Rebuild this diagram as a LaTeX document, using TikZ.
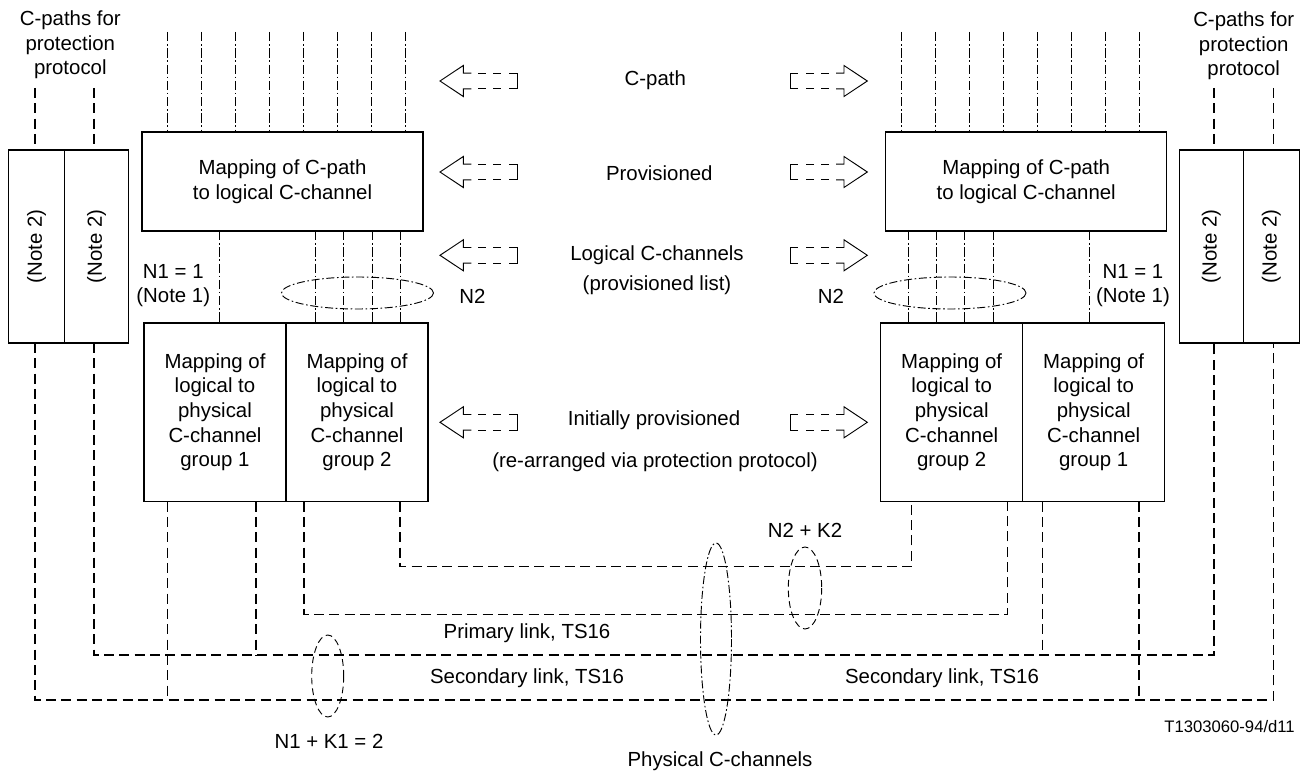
\documentclass[tikz,border=0pt]{standalone}
\usepackage{fontspec}
\setmainfont{Liberation Sans}
\usetikzlibrary{positioning}

\tikzset{
  box/.style={draw, line width=1pt, inner sep=0pt, outer sep=0pt, align=center, font=\fontsize{15.3}{18.5}\selectfont},
  lbl/.style={inner sep=0pt, align=center, font=\fontsize{15.3}{18.5}\selectfont},
  chanline/.style={line width=0.75pt, dash pattern=on 7pt off 2pt on 1.2pt off 2pt},
  linkline/.style={line width=0.85pt, dash pattern=on 7.5pt off 4pt},
  loopdash/.style={line width=0.7pt, dash pattern=on 5pt off 3pt},
  loopdot/.style={line width=0.7pt, dash pattern=on 6pt off 2pt on 1.2pt off 2pt},
  hollowarrow/.pic={
    \draw[line width=0.7pt] (31.3,-7.8) -- (23.3,-7.8) -- (23.3,-15.5) -- (0,0) -- (23.3,15.5) -- (23.3,7.8) -- (31.3,7.8);
    \draw[line width=0.7pt] (69.3,-7.8) -- (77.3,-7.8) -- (77.3,7.8) -- (69.3,7.8);
    \foreach \a in {38.3,53.3} {
      \draw[line width=0.7pt] (\a,-7.8) -- ++(8,0);
      \draw[line width=0.7pt] (\a,7.8) -- ++(8,0);
    }
  }
}

\begin{document}
\begin{tikzpicture}[x=0.75pt,y=0.75pt,yscale=-1,xscale=1]
\useasboundingbox (0,0) rectangle (1310,773);

% protection note boxes
\node[box, minimum width=42pt, minimum height=144.75pt] (lnA) at (36.5,246.5) {};
\node[box, minimum width=48pt, minimum height=144.75pt, right=0pt of lnA] (lnB) {};
\node[box, minimum width=48pt, minimum height=144.75pt] (rnA) at (1211.3,246.5) {};
\node[box, minimum width=42pt, minimum height=144.75pt, right=0pt of rnA] (rnB) {};
\foreach \n in {lnA,lnB,rnA,rnB}
  \node[lbl, rotate=90] (\n txt) at (\n) {(Note 2)};

% C-path mapping boxes
\node[box, minimum width=210.75pt, minimum height=74.25pt] (mapL) at (282.5,181.5) {Mapping of C-path\\to logical C-channel};
\node[box, minimum width=210.75pt, minimum height=74.25pt] (mapR) at (1026.2,181.5) {Mapping of C-path\\to logical C-channel};

% logical to physical boxes
\node[box, minimum width=106.5pt, minimum height=134pt] (grpL1) at (215,412.3) {Mapping of\\logical to\\physical\\C-channel\\group 1};
\node[box, minimum width=106.5pt, minimum height=134pt, right=0pt of grpL1] (grpL2) {Mapping of\\logical to\\physical\\C-channel\\group 2};
\node[box, minimum width=106.5pt, minimum height=134pt] (grpR2) at (951.7,412.3) {Mapping of\\logical to\\physical\\C-channel\\group 2};
\node[box, minimum width=106.5pt, minimum height=134pt, right=0pt of grpR2] (grpR1) {Mapping of\\logical to\\physical\\C-channel\\group 1};

% C-paths
\foreach \x [count=\i] in {167,201,...,405} {
  \coordinate (lcp\i) at (\x,32);
  \draw[chanline] (lcp\i) -- (lcp\i |- mapL.north);
}
\foreach \x [count=\i] in {901.7,935.7,...,1139.7} {
  \coordinate (rcp\i) at (\x,32);
  \draw[chanline] (rcp\i) -- (rcp\i |- mapR.north);
}

% logical C-channels
\draw[chanline] (219,0 |- mapL.south) -- (219,0 |- grpL1.north);
\foreach \x in {315,343,372,400}
  \draw[chanline] (\x,0 |- mapL.south) -- (\x,0 |- grpL2.north);
\foreach \x in {908.3,936,964.3,993}
  \draw[chanline] (\x,0 |- mapR.south) -- (\x,0 |- grpR2.north);
\draw[chanline] (1089.3,0 |- mapR.south) -- (1089.3,0 |- grpR1.north);
\draw[loopdot] (357.5,293) ellipse [x radius=76, y radius=16];
\draw[loopdot] (950,293) ellipse [x radius=76, y radius=16];

% protection protocol paths
\coordinate (ptA) at (35,88);
\coordinate (ptB) at (94,88);
\coordinate (ptC) at (1214,88);
\coordinate (ptD) at (1273.3,88);
\draw[linkline] (ptA) -- (ptA |- lnA.north);
\draw[linkline] (ptB) -- (ptB |- lnB.north);
\draw[linkline] (ptC) -- (ptC |- rnA.north);
\draw[linkline] (ptD) -- (ptD |- rnB.north);

% physical C-channels
\draw[linkline] (400,0 |- grpL2.south) -- (400,566.7) -| (911.7,0 |- grpR2.south);
\draw[linkline] (304,0 |- grpL2.south) -- (304,614.3) -| (1007.7,0 |- grpR2.south);
\draw[linkline] (94,0 |- lnB.south) -- (94,655) -| (1214,0 |- rnA.south);
\draw[linkline] (35,0 |- lnA.south) -- (35,700) -| (1273.3,0 |- rnB.south);
\draw[linkline] (256,0 |- grpL1.south) -- (256,655);
\draw[linkline] (167.7,0 |- grpL1.south) -- (167.7,700);
\draw[linkline] (1042.7,0 |- grpR1.south) -- (1042.7,655);
\draw[linkline] (1139,0 |- grpR1.south) -- (1139,700);
\draw[loopdash] (327.7,676) ellipse [x radius=16, y radius=41];
\draw[loopdash] (805,588) ellipse [x radius=16.7, y radius=41];
\draw[loopdot] (716,639) ellipse [x radius=15.5, y radius=96];

% hollow arrows
\foreach \y in {81,172,255.3,422.3} {
  \pic at (440,\y) {hollowarrow};
  \pic[xscale=-1] at (867.3,\y) {hollowarrow};
}

% Text Nodes
\node[lbl] (protL) at (70.3,45) {C-paths for\\protection\\protocol};
\node[lbl] (protR) at (1243.7,46) {C-paths for\\protection\\protocol};
\node[lbl] (cpath) at (655.3,80) {C-path};
\node[lbl] (prov) at (659.3,173.3) {Provisioned};
\node[lbl] (logch) at (657,270) {Logical C-channels\\[4pt](provisioned list)};
\node[lbl] (n2L) at (472.5,296) {N2};
\node[lbl] (n2R) at (831,296) {N2};
\node[lbl] (n1L) at (173.3,285.5) {N1 = 1\\(Note 1)};
\node[lbl] (n1R) at (1133,285.5) {N1 = 1\\(Note 1)};
\node[lbl] (init) at (654,420.7) {Initially provisioned};
\node[lbl] (rearr) at (655,462.3) {(re-arranged via protection protocol)};
\node[lbl] (n2k2) at (805,530) {N2 + K2};
\node[lbl] (prim) at (527,633) {Primary link, TS16};
\node[lbl] (secL) at (527,678) {Secondary link, TS16};
\node[lbl] (secR) at (942,678) {Secondary link, TS16};
\node[lbl] (n1k1) at (329,741.7) {N1 + K1 = 2};
\node[lbl] (phys) at (720,761.7) {Physical C-channels};
\node[lbl, anchor=east, font=\fontsize{12.5}{15}\selectfont] (tag) at (1295,727) {T1303060-94/d11};

\end{tikzpicture}
\end{document}
